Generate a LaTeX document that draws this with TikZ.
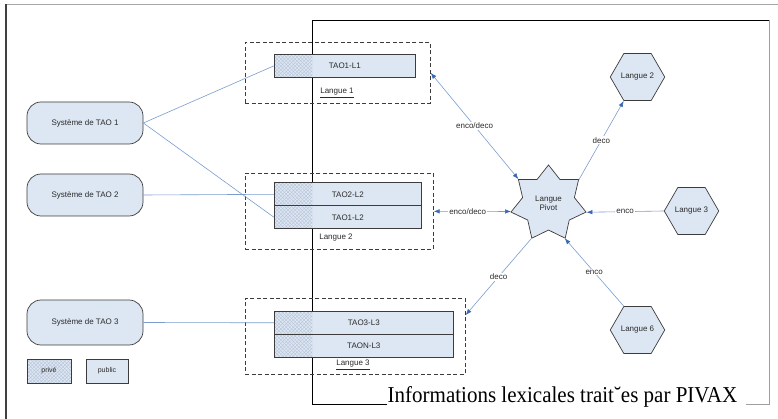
\documentclass[tikz,border=0pt]{standalone}
\usepackage{fontspec}
\usepackage{graphicx}
\setmainfont{Liberation Serif}
\setsansfont{Liberation Sans}
\usetikzlibrary{shapes.geometric,patterns,arrows.meta}
\definecolor{boxfill}{HTML}{DDE7F3}
\definecolor{linkblue}{HTML}{7C9DCF}
\definecolor{tipblue}{HTML}{3A69B3}
\definecolor{edgegray}{HTML}{3C3C3C}
\definecolor{hatchcol}{HTML}{B6C3D6}
\definecolor{txtgray}{HTML}{2A2A2A}
\pgfdeclarepatternformonly{finecross}{\pgfqpoint{-1pt}{-1pt}}{\pgfqpoint{4.5pt}{4.5pt}}{\pgfqpoint{3.6pt}{3.6pt}}{%
  \pgfsetlinewidth{0.35pt}%
  \pgfpathmoveto{\pgfqpoint{0pt}{0pt}}\pgfpathlineto{\pgfqpoint{3.6pt}{3.6pt}}%
  \pgfpathmoveto{\pgfqpoint{0pt}{3.6pt}}\pgfpathlineto{\pgfqpoint{3.6pt}{0pt}}%
  \pgfusepath{stroke}}
\begin{document}
\begin{tikzpicture}[x=1pt,y=-1pt,
  smallfont/.style={font=\sffamily\fontsize{8}{9.6}\selectfont, text=txtgray},
  sysbox/.style={smallfont, draw=edgegray, line width=0.7pt, fill=boxfill, rounded corners=14pt, minimum width=116pt, minimum height=42pt, inner sep=0pt},
  langbox/.style={draw=edgegray, line width=0.7pt, dash pattern=on 4pt off 2.5pt, anchor=north west, inner sep=0pt},
  entry/.style={smallfont, draw=edgegray, line width=0.6pt, fill=boxfill, anchor=north west, inner sep=0pt, minimum height=23pt,
    path picture={\fill[pattern=finecross, pattern color=hatchcol] (path picture bounding box.north west) rectangle ([xshift=38pt]path picture bounding box.south west);}},
  langlabel/.style={smallfont, inner sep=0pt},
  hexbox/.style={smallfont, regular polygon, regular polygon sides=6, minimum size=51pt, inner sep=0pt, draw=edgegray, line width=0.7pt, fill=boxfill},
  legbox/.style={font=\sffamily\fontsize{7}{8}\selectfont, text=txtgray, draw=edgegray, line width=0.6pt, minimum height=24pt, inner sep=0pt},
  link/.style={draw=linkblue, line width=0.6pt},
  bluetip/.tip={Latex[length=6pt,width=4.5pt,color=tipblue]},
  arrlabel/.style={smallfont, fill=white, inner sep=1pt}
]
\useasboundingbox (0,0) rectangle (778,419);
\fill[white] (0,0) rectangle (778,419);

% outer frame
\draw[line width=1.4pt, gray!70] (6,4.5) -- (778,4.5);
\draw[line width=1.6pt, black!75] (6,419) -- (6,4);

% inner frame
\draw[line width=0.8pt, black] (387,404) -- (312,404) -- (312,20) -- (769,20);
\draw[line width=0.9pt, gray!75] (769,20) -- (769,404) -- (746,404);
\node[anchor=base west, inner sep=0pt, font=\fontsize{21}{24}\selectfont, text=black] (caption) at (387.5,402.5)
  {\scalebox{1}[1.08]{Informations lexicales trait˘es par PIVAX}};

% language boxes
\node[langbox, minimum width=185pt, minimum height=61pt] (lang1) at (245,42) {};
\node[langbox, minimum width=188pt, minimum height=76pt] (lang2) at (245,173) {};
\node[langbox, minimum width=220pt, minimum height=76pt] (lang3) at (245,298) {};

\node[entry, minimum width=141pt] (e11) at (274,54) {TAO1-L1};
\node[entry, minimum width=147pt] (e22) at (274,182.5) {TAO2-L2};
\node[entry, minimum width=147pt] (e12) at (274,205.5) {TAO1-L2};
\node[entry, minimum width=179pt] (e33) at (274,311) {TAO3-L3};
\node[entry, minimum width=179pt] (e3n) at (274,334) {TAON-L3};

\node[langlabel] (l1lab) at (337,93) {\underline{Langue 1}};
\node[langlabel] (l2lab) at (336,238) {Langue 2};
\node[langlabel] (l3lab) at (353,365) {\underline{Langue 3}};

% systems
\node[sysbox] (sys1) at (85,123) {Système de TAO 1};
\node[sysbox] (sys2) at (85,195) {Système de TAO 2};
\node[sysbox, minimum height=45pt] (sys3) at (85,322.5) {Système de TAO 3};

% legend
\node[legbox, minimum width=44pt, preaction={fill=boxfill}, pattern=finecross, pattern color=hatchcol] (prive) at (49,371) {privé};
\node[legbox, minimum width=42pt, fill=boxfill] (public) at (107,371) {public};

% system links
\draw[link] (sys1.east) -- (e11.west);
\draw[link] (sys1.east) -- (e12.west);
\draw[link] (sys2.east) -- (e22.west);
\draw[link] (sys3.east) -- (e33.west);

% pivot and languages
\node[smallfont, star, star points=7, star point ratio=1.45, minimum size=77pt, inner sep=0pt, draw=edgegray, line width=0.7pt, fill=boxfill, align=center] (pivot) at (548.5,203.5) {Langue\\[-1pt]Pivot};
\node[hexbox] (hex2) at (637.5,77) {Langue 2};
\node[hexbox] (hex3) at (691.5,211) {Langue 3};
\node[hexbox] (hex6) at (637.5,330) {Langue 6};

\draw[link, bluetip-bluetip] (lang1.east) -- node[arrlabel] (a1) {enco/deco} (pivot.141.4);
\draw[link, bluetip-bluetip] (lang2.east) -- node[arrlabel, pos=0.44] (a2) {enco/deco} (pivot.192.8);
\draw[link, -bluetip] (pivot.244.3) -- node[arrlabel] (a3) {deco} ([yshift=-17pt]lang3.north east);
\draw[link, -bluetip] (pivot.38.6) -- node[arrlabel] (a4) {deco} (hex2.240);
\draw[link, -bluetip] (hex3.west) -- node[arrlabel] (a5) {enco} (pivot.347.2);
\draw[link, -bluetip] (hex6.120) -- node[arrlabel] (a6) {enco} (pivot.295.7);
\end{tikzpicture}
\end{document}
